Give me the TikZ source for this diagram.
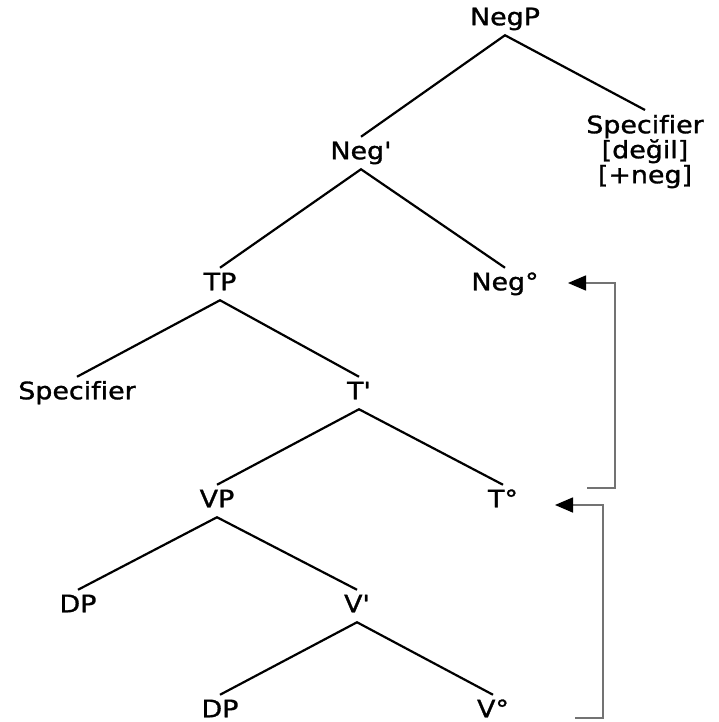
\documentclass[tikz,border=0pt]{standalone}
\usepackage{fontspec}
\newfontfamily\treefont{DejaVu Sans}[Ligatures=NoCommon, FakeStretch=1.12, FakeBold=1.2]
\usetikzlibrary{arrows.meta}
\begin{document}
\begin{tikzpicture}[x=1pt,y=-1pt,
  lab/.style={font=\treefont\fontsize{24}{25}\selectfont, inner sep=0pt, outer sep=5pt,
              text height=17.5pt, text depth=5pt, anchor=center},
  branch/.style={line width=2.2pt, black},
  move/.style={line width=1.6pt, draw=black!55, -{Triangle[length=18pt,width=15pt,color=black]}}]
\useasboundingbox[fill=white] (0,0) rectangle (719,722);
\node[lab] (negp) at (505,19) {NegP};
\node[lab, text height=, text depth=, align=center, anchor=north] (spec) at (645,110)
  {Specifier\\{}{[değil]}\\{}{[+neg]}};
\node[lab] (negbar) at (361,153) {Neg'};
\node[lab] (tp) at (220,284) {TP};
\node[lab] (negzero) at (505,284) {Neg°};
\node[lab] (specl) at (77,393) {Specifier};
\node[lab] (tbar) at (359,393) {T'};
\node[lab] (vp) at (217,501) {VP};
\node[lab] (tzero) at (503,501) {T°};
\node[lab] (dpa) at (78,606) {DP};
\node[lab] (vbar) at (357,606) {V'};
\node[lab] (dpb) at (220,711) {DP};
\node[lab] (vzero) at (493,711) {V°};
\draw[branch] (negbar.north) -- (negp.south) -- (spec.north);
\draw[branch] (tp.north) -- (negbar.south) -- (negzero.north);
\draw[branch] (specl.north) -- (tp.south) -- (tbar.north);
\draw[branch] (vp.north) -- (tbar.south) -- (tzero.north);
\draw[branch] (dpa.north) -- (vp.south) -- (vbar.north);
\draw[branch] (dpb.north) -- (vbar.south) -- (vzero.north);
\coordinate (m1s) at (587,488);
\coordinate (m1t) at (568,283);
\coordinate (m2s) at (575,718);
\coordinate (m2t) at (555,505);
\draw[move] (m1s) -- ++(28,0) |- (m1t);
\draw[move] (m2s) -- ++(28,0) |- (m2t);
\end{tikzpicture}
\end{document}
